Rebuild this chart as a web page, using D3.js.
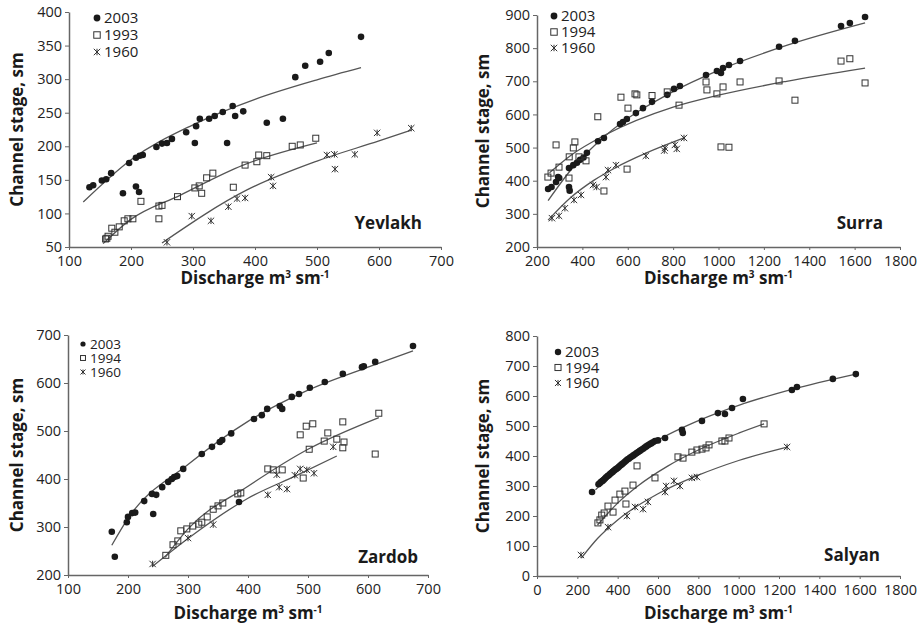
<!DOCTYPE html>
<html>
<head>
<meta charset="utf-8">
<script src="https://cdn.jsdelivr.net/npm/d3@7"></script>
<style>
  body { margin: 0; background: #fff; }
  svg { display: block; font-family: "Open Sans", "DejaVu Sans", sans-serif; }
</style>
</head>
<body>
<div class="vis"></div>
<script>
// ---- data: [discharge, stage] ----
const yevlakh2003 = [[133,139],[139,142],[153,149],[160,151],[168,160],[187,130],[197,175],[208,140],[208,183],[213,132],[214,186],[219,187],[241,199],[250,204],[258,205],[266,211],[289,221],[303,205],[305,230],[311,241],[326,241],[335,245],[348,251],[355,205],[364,260],[368,245],[381,252],[419,235],[445,241],[465,303],[481,320],[505,326],[519,339],[571,363]];
const yevlakh1993 = [[159,62],[161,63],[163,66],[169,78],[174,72],[181,80],[189,89],[195,92],[203,92],[216,118],[245,111],[250,112],[245,92],[275,125],[303,138],[310,141],[314,130],[322,153],[332,160],[365,139],[384,172],[403,177],[406,187],[419,186],[460,200],[473,202],[498,212]];
const yevlakh1960 = [[258,57],[298,96],[329,89],[357,110],[371,122],[384,123],[426,154],[429,141],[516,187],[528,188],[529,166],[561,188],[597,220],[652,227]];
const yevlakhFit2003 = [[123,117],[200,180],[300,232],[400,270],[500,299],[571,317]];
const yevlakhFit1993 = [[155,55],[198,90],[279,127],[381,172],[500,205]];
const yevlakhFit1960 = [[250,56],[387,135],[500,178],[600,208],[652,224]];

const surra2003 = [[249,375],[264,381],[284,396],[293,411],[298,408],[341,438],[360,447],[376,454],[390,463],[405,470],[420,484],[341,381],[344,370],[469,519],[495,529],[566,571],[579,577],[596,586],[636,604],[667,619],[707,638],[774,659],[804,677],[830,686],[945,719],[993,731],[1011,725],[1020,740],[1046,749],[1095,761],[1267,804],[1337,822],[1540,867],[1579,876],[1646,894]];
const surra1994 = [[248,411],[262,423],[284,508],[297,441],[341,408],[342,472],[360,499],[367,517],[385,472],[416,460],[468,593],[495,369],[570,652],[597,435],[601,619],[632,662],[640,659],[707,657],[774,668],[826,628],[945,698],[949,674],[993,662],[1020,683],[1095,698],[1267,701],[1337,643],[1011,502],[1046,501],[1540,761],[1579,768],[1646,695]];
const surra1960 = [[266,287],[297,294],[323,317],[363,342],[394,357],[447,387],[463,381],[504,411],[513,432],[548,447],[680,475],[764,499],[761,491],[808,508],[816,496],[848,529]];
const surraFit2003 = [[249,340],[350,433],[500,535],[800,669],[1000,733],[1300,808],[1646,876]];
const surraFit1994 = [[255,424],[350,477],[500,538],[800,622],[1000,658],[1300,700],[1646,740]];
const surraFit1960 = [[249,281],[350,350],[450,401],[548,440],[680,483],[848,529]];

const zardob2003 = [[173,290],[178,238],[198,310],[200,321],[207,329],[212,330],[227,354],[240,369],[242,327],[247,367],[257,383],[267,394],[273,400],[277,404],[282,406],[292,421],[323,452],[340,467],[353,477],[357,481],[372,495],[385,352],[410,525],[423,533],[432,546],[453,552],[457,546],[473,571],[485,577],[503,590],[528,602],[558,619],[590,633],[593,635],[612,644],[675,677]];
const zardob1994 = [[263,241],[275,263],[283,271],[288,292],[298,296],[308,302],[318,306],[323,310],[332,321],[342,337],[350,344],[358,350],[383,369],[388,371],[433,421],[442,419],[457,419],[487,492],[492,402],[497,510],[508,515],[502,462],[527,479],[533,496],[548,483],[558,519],[560,477],[558,465],[612,452],[618,537]];
const zardob1960 = [[241,223],[300,277],[342,305],[433,367],[448,409],[452,383],[465,379],[478,408],[487,421],[498,419],[510,412],[542,467]];
const zardobFit2003 = [[173,262],[200,318],[300,430],[400,520],[500,585],[600,633],[675,667]];
const zardobFit1994 = [[262,237],[300,296],[400,385],[500,462],[618,528]];
const zardobFit1960 = [[240,217],[300,276],[400,360],[482,408],[548,448]];

const salyan2003 = [[273,280],[305,306],[312,310],[318,314],[325,317],[331,321],[337,325],[343,329],[350,333],[356,336],[362,340],[368,343],[375,347],[381,351],[387,354],[393,357],[400,360],[406,364],[413,368],[420,372],[427,376],[434,380],[441,384],[448,388],[455,391],[462,395],[470,398],[478,402],[486,406],[494,410],[502,413],[510,417],[518,421],[526,424],[534,428],[542,432],[550,436],[558,439],[566,442],[575,446],[585,450],[600,452],[635,460],[719,487],[723,477],[818,517],[897,543],[932,540],[967,560],[1021,590],[1264,620],[1289,630],[1467,657],[1581,673]];
const salyan1994 = [[302,177],[312,187],[321,203],[333,210],[352,233],[377,213],[387,253],[411,273],[436,283],[441,240],[476,303],[496,367],[585,327],[699,397],[724,393],[768,413],[793,420],[818,423],[838,427],[853,437],[917,450],[932,450],[952,460],[1126,507]];
const salyan1960 = [[218,70],[352,163],[446,200],[486,230],[526,223],[550,247],[635,280],[640,300],[679,317],[709,300],[768,327],[793,330],[1240,430]];
const salyanFit2003 = [[290,287],[400,360],[585,447],[818,523],[1000,569],[1264,622],[1581,673]];
const salyanFit1994 = [[300,170],[400,243],[500,300],[650,367],[800,420],[1000,476],[1126,507]];
const salyanFit1960 = [[220,60],[300,125],[400,187],[600,274],[800,336],[1000,385],[1240,430]];

const xTicks700 = [100,200,300,400,500,600,700];
const xTicks1800a = [200,400,600,800,1000,1200,1400,1600,1800];
const xTicks1800b = [0,200,400,600,800,1000,1200,1400,1600,1800];
const yevlakhYTicks = [50,100,150,200,250,300,350,400];
const surraYTicks = [200,300,400,500,600,700,800,900];
const zardobYTicks = [200,300,400,500,600,700];
const salyanYTicks = [0,100,200,300,400,500,600,700,800];

const yearsA = ['2003','1993','1960'];
const yearsB = ['2003','1994','1960'];

// ---- layout ----
const panels = [
  { name: 'Yevlakh', pts: [yevlakh2003, yevlakh1993, yevlakh1960], fits: [yevlakhFit2003, yevlakhFit1993, yevlakhFit1960],
    years: yearsA, xd: [100,700], yd: [50,400], xt: xTicks700, yt: yevlakhYTicks,
    left: 69, right: 441, bottom: 247, top: 12, xTitleY: 284, yTitleX: 23,
    leg: { x: 97, y: 18, dy: 17, r: 3.4, fs: 15 }, lab: { x: 422, y: 229 } },
  { name: 'Surra', pts: [surra2003, surra1994, surra1960], fits: [surraFit2003, surraFit1994, surraFit1960],
    years: yearsB, xd: [200,1800], yd: [200,900], xt: xTicks1800a, yt: surraYTicks,
    left: 537, right: 900, bottom: 247, top: 15, xTitleY: 284, yTitleX: 489,
    leg: { x: 554, y: 16, dy: 16, r: 3.4, fs: 15 }, lab: { x: 883, y: 229 } },
  { name: 'Zardob', pts: [zardob2003, zardob1994, zardob1960], fits: [zardobFit2003, zardobFit1994, zardobFit1960],
    years: yearsB, xd: [100,700], yd: [200,700], xt: xTicks700, yt: zardobYTicks,
    left: 68, right: 428, bottom: 575, top: 335, xTitleY: 619, yTitleX: 23,
    leg: { x: 83, y: 344, dy: 14, r: 2.6, fs: 13.5 }, lab: { x: 418, y: 563 } },
  { name: 'Salyan', pts: [salyan2003, salyan1994, salyan1960], fits: [salyanFit2003, salyanFit1994, salyanFit1960],
    years: yearsB, xd: [0,1800], yd: [0,800], xt: xTicks1800b, yt: salyanYTicks,
    left: 537, right: 900, bottom: 576, top: 336, xTitleY: 619, yTitleX: 489,
    leg: { x: 558, y: 352, dy: 15.5, r: 3.2, fs: 15 }, lab: { x: 880, y: 561 } }
];

const ink = '#1a1a1a';
const axisCol = '#666';

const svg = d3.select('.vis').append('svg')
  .attr('width', 924)
  .attr('height', 631);
svg.append('rect').attr('width', 924).attr('height', 631).attr('fill', '#fff');

// marker drawers: 0 = filled dot, 1 = open square, 2 = star (x with vertical bar)
function marker(g, type, cx, cy, s) {
  if (type === 0) {
    g.append('circle').attr('cx', cx).attr('cy', cy).attr('r', s)
      .attr('fill', ink);
  } else if (type === 1) {
    g.append('rect').attr('x', cx - s).attr('y', cy - s)
      .attr('width', 2 * s).attr('height', 2 * s)
      .attr('fill', 'none').attr('stroke', '#333').attr('stroke-width', 1);
  } else {
    const d = s;
    g.append('path')
      .attr('d', `M${cx-d},${cy-d}L${cx+d},${cy+d}M${cx-d},${cy+d}L${cx+d},${cy-d}M${cx},${cy-d}L${cx},${cy+d}`)
      .attr('stroke', '#333').attr('stroke-width', 1).attr('fill', 'none');
  }
}

panels.forEach(p => {
  const x = d3.scaleLinear().domain(p.xd).range([p.left, p.right]);
  const y = d3.scaleLinear().domain(p.yd).range([p.bottom, p.top]);
  const g = svg.append('g');

  // axes
  const xa = g.append('g')
    .attr('transform', `translate(0,${p.bottom})`)
    .call(d3.axisBottom(x).tickValues(p.xt).tickFormat(d3.format('d'))
      .tickSize(3).tickSizeOuter(0).tickPadding(6));
  const ya = g.append('g')
    .attr('transform', `translate(${p.left},0)`)
    .call(d3.axisLeft(y).tickValues(p.yt).tickFormat(d3.format('d'))
      .tickSize(4).tickSizeOuter(0).tickPadding(3));
  [xa, ya].forEach(a => {
    a.select('.domain').attr('stroke', axisCol).attr('stroke-width', 1.5);
    a.selectAll('.tick line').attr('stroke', axisCol);
    a.selectAll('.tick text').attr('fill', '#222')
      .style('font-size', '14.5px')
      .style('font-family', '"Open Sans", sans-serif');
  });

  // fitted curves
  const line = d3.line().x(d => x(d[0])).y(d => y(d[1])).curve(d3.curveMonotoneX);
  p.fits.forEach(f => {
    g.append('path').datum(f)
      .attr('d', line)
      .attr('fill', 'none')
      .attr('stroke', '#555')
      .attr('stroke-width', 1.3);
  });

  // points
  const size = [3.3, 3, 3.2];
  p.pts.forEach((s, i) => {
    const sg = g.append('g');
    s.forEach(d => marker(sg, i, x(d[0]), y(d[1]), size[i]));
  });

  // legend
  p.years.forEach((yr, i) => {
    const cy = p.leg.y + i * p.leg.dy;
    marker(g, i, p.leg.x, cy, i === 0 ? p.leg.r : p.leg.r * 0.95);
    g.append('text')
      .attr('x', p.leg.x + 7)
      .attr('y', cy + p.leg.fs * 0.36)
      .attr('fill', '#222')
      .style('font-size', p.leg.fs + 'px')
      .text(yr);
  });

  // station name
  g.append('text')
    .attr('x', p.lab.x).attr('y', p.lab.y)
    .attr('text-anchor', 'end')
    .attr('fill', ink)
    .style('font-size', '17px').style('font-weight', 'bold')
    .text(p.name);

  // x title
  const xt = g.append('text')
    .attr('x', (p.left + p.right) / 2).attr('y', p.xTitleY)
    .attr('text-anchor', 'middle')
    .attr('fill', ink)
    .style('font-size', '17px').style('font-weight', 'bold');
  xt.append('tspan').text('Discharge m');
  xt.append('tspan').attr('dy', -6).style('font-size', '10px').text('3');
  xt.append('tspan').attr('dy', 6).text(' sm');
  xt.append('tspan').attr('dy', -6).style('font-size', '10px').text('-1');

  // y title
  g.append('text')
    .attr('transform', `translate(${p.yTitleX},${(p.top + p.bottom) / 2}) rotate(-90)`)
    .attr('text-anchor', 'middle')
    .attr('fill', ink)
    .style('font-size', '17px').style('font-weight', 'bold')
    .text('Channel stage, sm');
});
</script>
</body>
</html>
